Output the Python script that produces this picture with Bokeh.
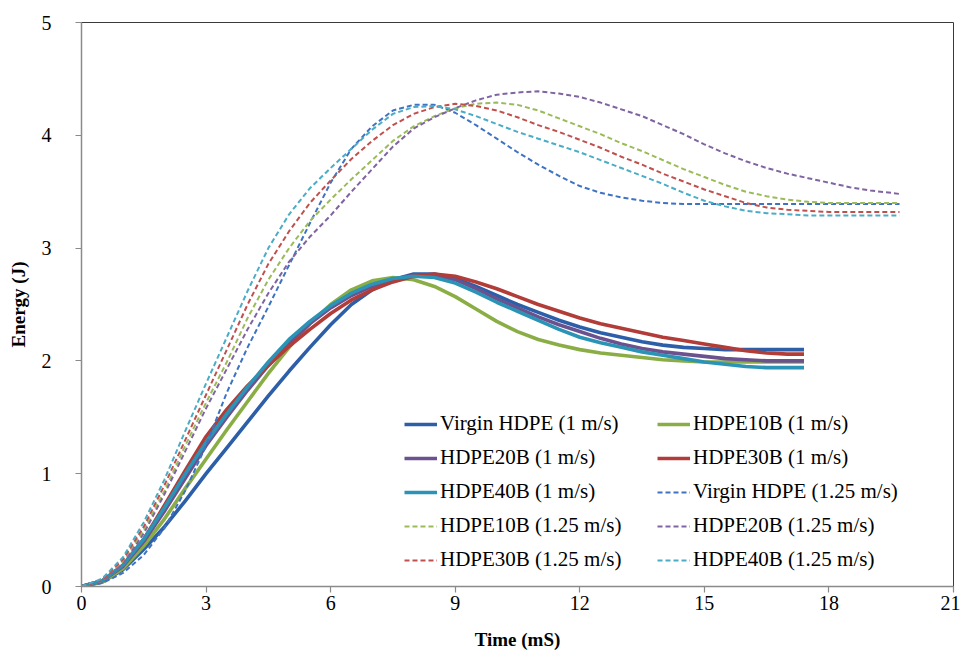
from bokeh.plotting import figure
from bokeh.models import Legend, LegendItem, FixedTicker, Range1d
from bokeh.embed import file_html
from bokeh.resources import INLINE

# ---------------- data ----------------
time_1 = [0.0, 0.5, 1.0, 1.5, 2.0, 2.5, 3.0, 3.5, 4.0, 4.5, 5.0, 5.5, 6.0, 6.5, 7.0, 7.5,
          8.0, 8.5, 9.0, 9.5, 10.0, 10.5, 11.0, 11.5, 12.0, 12.5, 13.0, 13.5, 14.0, 14.5,
          15.0, 15.5, 16.0, 16.5, 17.0, 17.4]

virgin_1 = [0, 0.04, 0.15, 0.33, 0.53, 0.76, 1.00, 1.23, 1.46, 1.69, 1.91, 2.12, 2.32, 2.50,
            2.63, 2.72, 2.77, 2.77, 2.73, 2.66, 2.58, 2.50, 2.43, 2.36, 2.30, 2.25, 2.21,
            2.17, 2.14, 2.12, 2.11, 2.10, 2.10, 2.10, 2.10, 2.10]
b10_1 = [0, 0.04, 0.16, 0.36, 0.60, 0.87, 1.13, 1.39, 1.64, 1.89, 2.12, 2.33, 2.50, 2.63,
         2.71, 2.74, 2.72, 2.66, 2.57, 2.46, 2.35, 2.26, 2.19, 2.14, 2.10, 2.07, 2.05, 2.03,
         2.01, 2.00, 1.99, 1.99, 1.99, 1.99, 1.99, 1.99]
b20_1 = [0, 0.05, 0.18, 0.40, 0.67, 0.96, 1.25, 1.50, 1.74, 1.96, 2.16, 2.33, 2.47, 2.58,
         2.66, 2.72, 2.76, 2.76, 2.72, 2.64, 2.55, 2.47, 2.39, 2.32, 2.26, 2.20, 2.15, 2.11,
         2.08, 2.06, 2.04, 2.02, 2.01, 2.00, 2.00, 2.00]
b30_1 = [0, 0.05, 0.19, 0.42, 0.72, 1.03, 1.33, 1.57, 1.78, 1.96, 2.13, 2.28, 2.42, 2.54,
         2.63, 2.70, 2.75, 2.77, 2.75, 2.70, 2.64, 2.57, 2.50, 2.44, 2.38, 2.33, 2.29, 2.25,
         2.21, 2.18, 2.15, 2.12, 2.09, 2.07, 2.06, 2.06]
b40_1 = [0, 0.05, 0.19, 0.42, 0.70, 1.00, 1.28, 1.53, 1.77, 1.99, 2.19, 2.35, 2.49, 2.60,
         2.68, 2.73, 2.75, 2.74, 2.69, 2.61, 2.52, 2.44, 2.36, 2.28, 2.21, 2.16, 2.12, 2.08,
         2.05, 2.02, 1.99, 1.97, 1.95, 1.94, 1.94, 1.94]

time_125 = [0.0, 0.5, 1.0, 1.5, 2.0, 2.5, 3.0, 3.5, 4.0, 4.5, 5.0, 5.5, 6.0, 6.5, 7.0, 7.5,
            8.0, 8.5, 9.0, 9.5, 10.0, 10.5, 11.0, 11.5, 12.0, 12.5, 13.0, 13.5, 14.0, 14.5,
            15.0, 15.5, 16.0, 16.5, 17.0, 17.5, 18.0, 18.5, 19.0, 19.5, 19.7]

virgin_125 = [0, 0.03, 0.12, 0.28, 0.52, 0.85, 1.25, 1.72, 2.12, 2.48, 2.85, 3.22, 3.58, 3.88,
              4.08, 4.22, 4.27, 4.27, 4.20, 4.09, 3.97, 3.85, 3.74, 3.64, 3.55, 3.49, 3.45,
              3.42, 3.40, 3.39, 3.39, 3.39, 3.39, 3.39, 3.39, 3.39, 3.39, 3.39, 3.39, 3.39, 3.39]
b10_125 = [0, 0.05, 0.22, 0.50, 0.85, 1.25, 1.63, 1.99, 2.38, 2.72, 3.00, 3.24, 3.43, 3.61,
           3.78, 3.95, 4.08, 4.17, 4.24, 4.28, 4.29, 4.27, 4.22, 4.15, 4.08, 4.01, 3.93, 3.86,
           3.78, 3.70, 3.63, 3.56, 3.50, 3.46, 3.43, 3.41, 3.40, 3.40, 3.40, 3.40, 3.40]
b20_125 = [0, 0.05, 0.20, 0.47, 0.82, 1.20, 1.58, 1.93, 2.28, 2.60, 2.88, 3.10, 3.29, 3.50,
           3.70, 3.90, 4.06, 4.16, 4.24, 4.31, 4.36, 4.38, 4.39, 4.37, 4.34, 4.29, 4.23, 4.17,
           4.09, 4.01, 3.92, 3.84, 3.77, 3.71, 3.66, 3.62, 3.58, 3.54, 3.51, 3.49, 3.48]
b30_125 = [0, 0.06, 0.24, 0.53, 0.90, 1.30, 1.70, 2.10, 2.50, 2.86, 3.15, 3.40, 3.60, 3.79,
           3.95, 4.09, 4.19, 4.25, 4.28, 4.26, 4.22, 4.16, 4.09, 4.03, 3.96, 3.89, 3.81, 3.74,
           3.66, 3.59, 3.52, 3.46, 3.40, 3.36, 3.34, 3.33, 3.32, 3.32, 3.32, 3.32, 3.32]
b40_125 = [0, 0.07, 0.26, 0.57, 0.95, 1.38, 1.80, 2.21, 2.62, 3.00, 3.30, 3.53, 3.71, 3.88,
           4.05, 4.19, 4.25, 4.26, 4.23, 4.17, 4.10, 4.03, 3.97, 3.91, 3.85, 3.78, 3.71, 3.64,
           3.57, 3.49, 3.42, 3.37, 3.33, 3.31, 3.30, 3.29, 3.29, 3.29, 3.29, 3.29, 3.29]

labels = ["Virgin HDPE (1 m/s)", "HDPE10B (1 m/s)", "HDPE20B (1 m/s)", "HDPE30B (1 m/s)",
          "HDPE40B (1 m/s)", "Virgin HDPE (1.25 m/s)", "HDPE10B (1.25 m/s)",
          "HDPE20B (1.25 m/s)", "HDPE30B (1.25 m/s)", "HDPE40B (1.25 m/s)"]
x_ticks = [0, 3, 6, 9, 12, 15, 18, 21]
y_ticks = [0, 1, 2, 3, 4, 5]

# ---------------- styling ----------------
solid_colors = ["#2D5FA9", "#8AAE45", "#6B528F", "#B13C38", "#2A93B6"]
dash_colors = ["#3E72C2", "#9BBB59", "#8064A2", "#C0504D", "#4BACC6"]
SERIF = "Liberation Serif"

p = figure(width=960, height=660, output_backend="svg", toolbar_location=None,
           x_range=Range1d(0, 21), y_range=Range1d(0, 5),
           min_border_left=81, min_border_right=7, min_border_top=22, min_border_bottom=74)
p.background_fill_color = "white"
p.border_fill_color = "white"
p.outline_line_color = "#3a3a3a"
p.outline_line_width = 1
p.xgrid.visible = False
p.ygrid.visible = False

data = [
    (time_1, virgin_1), (time_1, b10_1), (time_1, b20_1), (time_1, b30_1), (time_1, b40_1),
    (time_125, virgin_125), (time_125, b10_125), (time_125, b20_125), (time_125, b30_125),
    (time_125, b40_125),
]
rs = []
for i, (xs, ys) in enumerate(data):
    if i < 5:
        r = p.line(xs, ys, line_color=solid_colors[i], line_width=3.6, line_join="round")
    else:
        r = p.line(xs, ys, line_color=dash_colors[i - 5], line_width=2.0, line_dash="5 3",
                   line_join="round")
    rs.append(r)

for ax in (p.xaxis[0], p.yaxis[0]):
    ax.axis_line_color = "#8a8a8a"
    ax.axis_line_width = 1.5
    ax.major_tick_line_color = "#8a8a8a"
    ax.major_tick_line_width = 1.2
    ax.major_tick_out = 6
    ax.major_tick_in = 0
    ax.minor_tick_line_color = None
    ax.major_label_text_font = SERIF
    ax.major_label_text_font_size = "20px"
    ax.major_label_text_color = "black"
    ax.axis_label_text_font = SERIF
    ax.axis_label_text_font_size = "19px"
    ax.axis_label_text_font_style = "bold"
    ax.axis_label_text_color = "black"

p.xaxis.ticker = FixedTicker(ticks=x_ticks)
p.yaxis.ticker = FixedTicker(ticks=y_ticks)
p.xaxis.axis_label = "Time (mS)"
p.yaxis.axis_label = "Energy (J)"
p.xaxis.major_label_standoff = 3
p.xaxis.axis_label_standoff = 16
p.yaxis.major_label_standoff = 24
p.yaxis.axis_label_standoff = 10


def make_legend(idx, loc):
    leg = Legend(items=[LegendItem(label=labels[i], renderers=[rs[i]]) for i in idx],
                 location=loc, orientation="vertical")
    leg.background_fill_alpha = 0
    leg.border_line_color = None
    leg.padding = 0
    leg.margin = 0
    leg.spacing = 9
    leg.glyph_width = 33
    leg.glyph_height = 24
    leg.label_height = 24
    leg.label_standoff = 3
    leg.label_text_font = SERIF
    leg.label_text_font_size = "21px"
    leg.label_text_color = "black"
    return leg


p.add_layout(make_legend([0, 2, 4, 6, 8], (323, 14)))
p.add_layout(make_legend([1, 3, 5, 7, 9], (576, 14)))

open("out.html", "w").write(file_html(p, INLINE))
